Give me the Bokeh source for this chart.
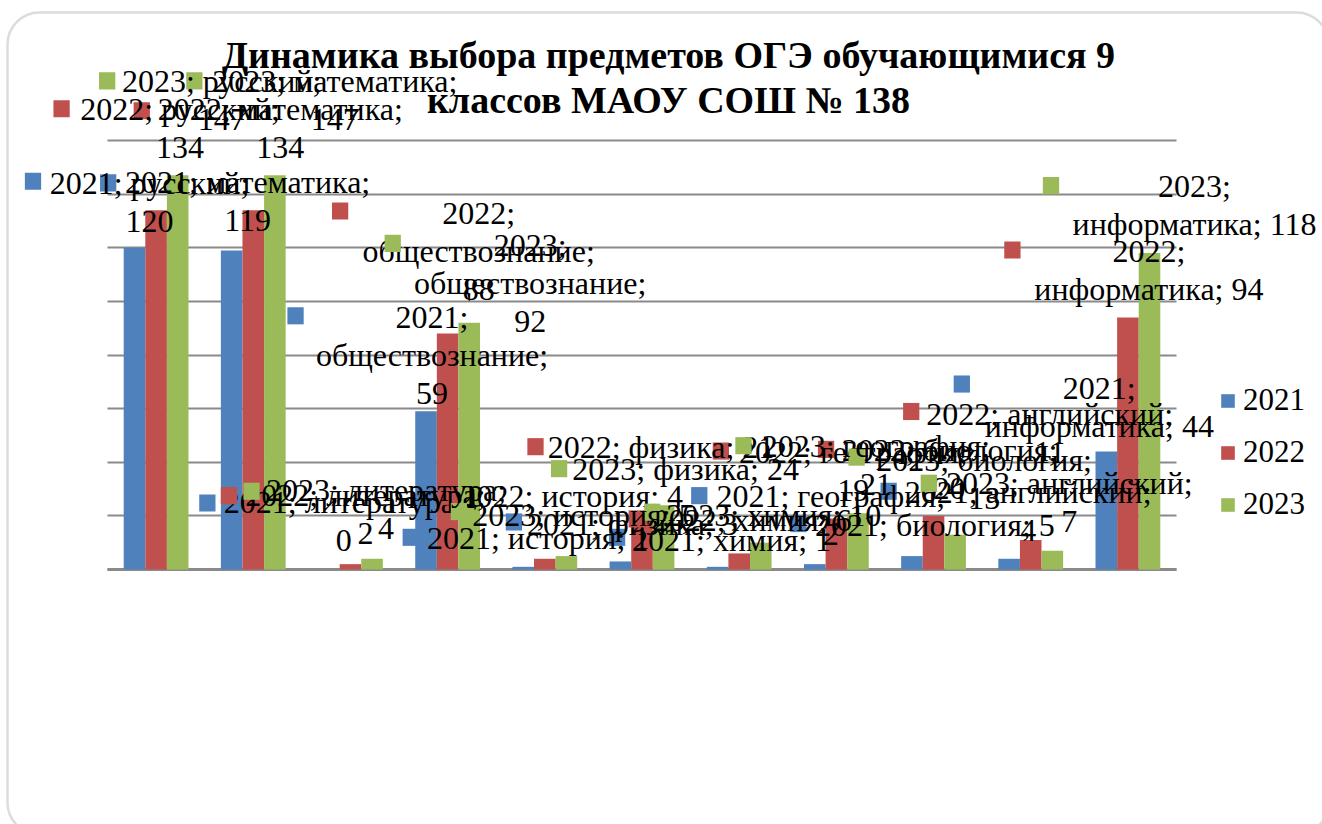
from bokeh.plotting import figure
from bokeh.models import (ColumnDataSource, LabelSet, Label, Legend, LegendItem,
                          BoxAnnotation, Range1d, FixedTicker, Grid)
from bokeh.transform import dodge
from bokeh.embed import file_html
from bokeh.resources import INLINE
from bokeh.core.properties import value

# ---------------- data ----------------
categories = ["русский", "математика", "литература", "обществознание", "история",
              "физика", "химия", "география", "биология", "английский", "информатика"]
years = ["2021", "2022", "2023"]
v2021 = [120, 119, 0, 59, 1, 3, 1, 2, 5, 4, 44]
v2022 = [134, 134, 2, 88, 4, 21, 6, 19, 20, 11, 94]
v2023 = [147, 147, 4, 92, 5, 24, 10, 21, 13, 7, 118]
y_ticks = [0, 20, 40, 60, 80, 100, 120, 140, 160]
title_lines = ["Динамика выбора предметов ОГЭ обучающимися 9", "классов МАОУ СОШ № 138"]

# ---------------- styles / layout ----------------
colors = ["#4F81BD", "#C0504D", "#9BBB59"]
FONT = "Liberation Serif"
LABEL_SIZE = "32px"
LINE_H = 38
BAR_W = 0.2222
W, H = 1322, 824
PLOT_L, PLOT_R, PLOT_T, PLOT_B = 107, 1176, 140, 569   # plot area in canvas px
N = len(categories)
Y_MAX = y_ticks[-1]
px_cat = (PLOT_R - PLOT_L) / N
px_unit = (PLOT_B - PLOT_T) / Y_MAX

# label wrapping mode: 1 "Y; cat; v" | 2 "Y; cat;"/"v" | 3 "Y;"/"cat;"/"v" | 4 "Y;"/"cat; v"
wrap = [
    [2, 2, 2, 3, 1, 1, 1, 2, 1, 2, 4],
    [2, 2, 2, 3, 1, 1, 1, 2, 2, 2, 4],
    [2, 2, 2, 3, 1, 1, 1, 2, 2, 2, 4],
]
# label placement relative to bar (px): text centre dx, first baseline dy, key left kdx, key top kdy
offsets = [
    [(15, -54, -110, -75), (16, -57, -132, -76), (15, -57, -130, -75), (6, -83, -139, -104),
     (15, -18, -121, -38), (12, -26, -115, -48), (14, -16, -109, -38), (16, -57, -124, -77),
     (23, -20, -122, -41), (19, -56, -129, -76), (-7, -53, -153, -76)],
    [(24, -90, -103, -110), (27, -90, -120, -108), (15, -58, -130, -77), (31, -110, -116, -131),
     (27, -52, -106, -71), (19, -55, -115, -75), (13, -22, -111, -43), (17, -56, -124, -76),
     (16, -55, -116, -75), (19, -115, -128, -137), (21, -55, -124, -76)],
    [(44, -83, -79, -103), (60, -83, -89, -103), (14, -58, -129, -76), (61, -67, -85, -88),
     (17, -30, -116, -53), (22, -25, -113, -45), (13, -17, -117, -39), (18, -56, -123, -76),
     (29, -64, -107, -86), (17, -57, -132, -76), (45, -56, -107, -76)],
]

x_range = Range1d(-PLOT_L / px_cat, N + (W - PLOT_R) / px_cat)
y_range = Range1d(-(H - PLOT_B) / px_unit, Y_MAX + PLOT_T / px_unit)

p = figure(width=W, height=H, output_backend="svg", toolbar_location=None,
           x_range=x_range, y_range=y_range,
           min_border_left=0, min_border_right=0, min_border_top=0, min_border_bottom=0)
p.outline_line_color = None
p.background_fill_color = "white"
p.border_fill_color = "white"

p.xaxis.visible = False
p.yaxis.visible = False
p.xgrid.visible = False
p.yaxis.ticker = FixedTicker(ticks=y_ticks)
g = p.ygrid[0]
g.grid_line_color = "#8a8a8a"
g.grid_line_width = 2
base = Grid(dimension=1, ticker=FixedTicker(ticks=[0]), grid_line_color="#8a8a8a",
            grid_line_width=3)
if "cross_bounds" in g.properties():
    g.cross_bounds = (0, N)
    base.cross_bounds = (0, N)
    p.add_layout(base)
else:
    g.visible = False
    p.segment(x0=0, x1=N, y0=y_ticks, y1=y_ticks, line_color="#8a8a8a", line_width=2)
    p.segment(x0=[0], x1=[N], y0=[0], y1=[0], line_color="#8a8a8a", line_width=3)

xs = [i + 0.5 for i in range(N)]
src = ColumnDataSource(dict(x=xs, cat=categories, y2021=v2021, y2022=v2022, y2023=v2023))
series = [v2021, v2022, v2023]
renderers = []
for j, yr in enumerate(years):
    r = p.vbar(x=dodge("x", (j - 1) * BAR_W), top="y" + yr,
               width=BAR_W, source=src, fill_color=colors[j], line_color=None)
    renderers.append(r)

# data labels (series; category; value) with legend keys
for j, yr in enumerate(years):
    vals = series[j]
    rows = dict(x=[], val=[], text=[], xo=[], yo=[])
    for i, cat in enumerate(categories):
        v = vals[i]
        m = wrap[j][i]
        if m == 1:
            lines = [f"{yr}; {cat}; {v}"]
        elif m == 2:
            lines = [f"{yr}; {cat};", f"{v}"]
        elif m == 3:
            lines = [f"{yr};", f"{cat};", f"{v}"]
        else:
            lines = [f"{yr};", f"{cat}; {v}"]
        dx, dy, kdx, kdy = offsets[j][i]
        for k, t in enumerate(lines):
            rows["x"].append(xs[i])
            rows["val"].append(v)
            rows["text"].append(t)
            rows["xo"].append(dx)
            rows["yo"].append(-(dy + k * LINE_H))
        key = Label(x=xs[i] + (j - 1) * BAR_W, y=v, x_offset=kdx + 8.5, y_offset=-(kdy + 8.5),
                    text=" ", text_font_size="1px", text_align="center", text_baseline="middle",
                    padding=8, background_fill_color=colors[j])
        p.add_layout(key)
    ls = LabelSet(x=dodge("x", (j - 1) * BAR_W), y="val", text="text",
                  x_offset="xo", y_offset="yo", source=ColumnDataSource(rows),
                  text_align="center", text_baseline="alphabetic",
                  text_font=value(FONT), text_font_size=LABEL_SIZE, text_color="black")
    p.add_layout(ls)

# title
for k, t in enumerate(title_lines):
    p.add_layout(Label(x=668, y=54 + k * 45, x_units="canvas", y_units="canvas", text=t,
                       text_align="center", text_baseline="alphabetic",
                       text_font=FONT, text_font_size="38px", text_font_style="bold",
                       text_color="black"))

# legend
legend = Legend(items=[LegendItem(label=yr, renderers=[renderers[j]]) for j, yr in enumerate(years)],
                location=(1219, 302), glyph_width=17, glyph_height=17, label_standoff=7,
                label_height=34, spacing=16, padding=0, margin=0, border_line_color=None,
                background_fill_alpha=0, label_text_font=FONT, label_text_font_size="31px",
                label_text_color="black")
p.add_layout(legend)

# slide frame
p.add_layout(BoxAnnotation(left=7, right=1328, top=12, bottom=834,
                           left_units="canvas", right_units="canvas",
                           top_units="canvas", bottom_units="canvas",
                           fill_color=None, line_color="#8a8a8a", line_width=2.5,
                           border_radius=32))

open("out.html", "w").write(file_html(p, INLINE))
